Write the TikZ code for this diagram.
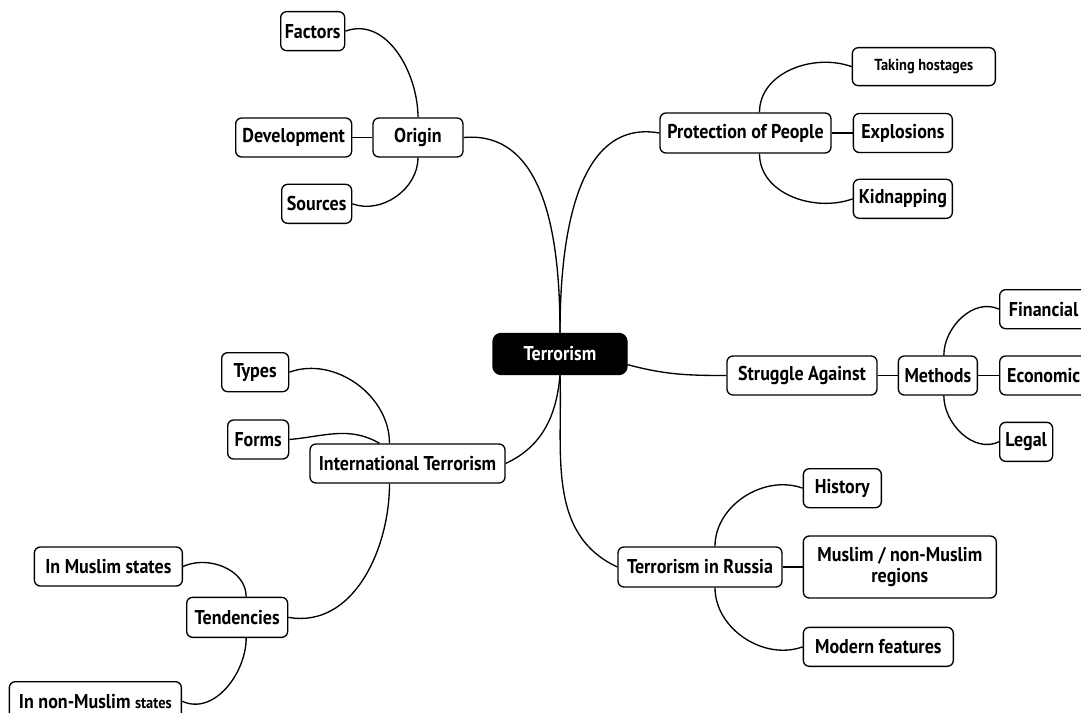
\documentclass[tikz,border=0pt]{standalone}
\usepackage{fontspec}
\setmainfont{PT Sans}[FakeStretch=0.9]
\usetikzlibrary{positioning}

\begin{document}
\begin{tikzpicture}[
    x=0.75pt, y=-0.75pt,
    node distance=15pt,
    topic/.style={rectangle, draw, line width=1pt, rounded corners=4.5pt, minimum height=29.25pt, inner xsep=3pt, align=center, font=\fontsize{15}{16}\selectfont\bfseries},
    central/.style={topic, fill=black, text=white, rounded corners=6pt, minimum height=30.75pt},
    link/.style={line width=1pt}
]
    \useasboundingbox (0,0) rectangle (1081,713);

    % Central topic
    \node[central, minimum width=100.5pt] (terror) at (560,354) {Terrorism};

    % Main branches
    \node[topic, minimum width=67.5pt] (origin) at (418,137.5) {Origin};
    \node[topic, minimum width=128.25pt, minimum height=30pt] (protect) at (745.5,133) {Protection of People};
    \node[topic, minimum width=112.5pt] (struggle) at (802,375.5) {Struggle Against};
    \node[topic, minimum width=146.25pt] (intl) at (407.5,463.5) {International Terrorism};
    \node[topic, minimum width=123pt, minimum height=30pt] (russia) at (700,567) {Terrorism in Russia};

    % Origin
    \node[topic, minimum width=87pt, left=of origin] (develop) {Development};
    \node[topic, minimum width=48pt, above left=49.5pt and 20.25pt of origin] (factors) {Factors};
    \node[topic, minimum width=52.5pt, below left=19.5pt and 15pt of origin] (sources) {Sources};

    % Protection of People
    \node[topic, minimum width=107.25pt, minimum height=28.5pt, font=\fontsize{12}{13}\selectfont\bfseries, above right=19.5pt and 15pt of protect] (hostages) {Taking hostages};
    \node[topic, minimum width=74.25pt, right=15.75pt of protect] (explosions) {Explosions};
    \node[topic, minimum width=74.25pt, below right=18.75pt and 15.75pt of protect] (kidnap) {Kidnapping};

    % Struggle Against
    \node[topic, minimum width=59.25pt, right=of struggle] (methods) {Methods};
    \node[topic, minimum width=66pt, above right=19.5pt and 15.75pt of methods] (financial) {Financial};
    \node[topic, minimum width=66pt, right=15.75pt of methods] (economic) {Economic};
    \node[topic, minimum width=39.75pt, below right=19.5pt and 15.75pt of methods] (legal) {Legal};

    % International Terrorism
    \node[topic, minimum width=50.25pt, above left=38.25pt and 15pt of intl] (types) {Types};
    \node[topic, minimum width=45.75pt, left=of intl, yshift=18pt] (forms) {Forms};
    \node[topic, minimum width=75.75pt, minimum height=30pt, below left=84.75pt and 15.75pt of intl] (tendency) {Tendencies};
    \node[topic, minimum width=111pt, above left=7.5pt and 2.25pt of tendency] (muslim) {In Muslim states};
    \node[topic, minimum width=129pt, below left=32.25pt and 3pt of tendency] (nonmuslim) {In non-Muslim {\fontsize{12}{13}\selectfont states}};

    % Terrorism in Russia
    \node[topic, minimum width=144.75pt, minimum height=46.5pt, right=of russia] (regions) {Muslim / non-Muslim\\regions};
    \node[topic, minimum width=58.5pt, above=20.25pt of regions.north west, anchor=south west] (history) {History};
    \node[topic, minimum width=112.5pt, below=21pt of regions.south west, anchor=north west] (modern) {Modern features};

    % Connections
    \draw[link] (terror.north) to[out=90, in=5] (origin.east);
    \draw[link] (terror.north) to[out=90, in=170] (protect.west);
    \draw[link] ([yshift=-8pt]terror.east) to[out=-15, in=180] (struggle.west);
    \draw[link] (terror.south) to[out=-95, in=25] (intl.east);
    \draw[link] (terror.south) to[out=-88, in=155] (russia.west);

    \draw[link] (origin.north) to[out=90, in=20] (factors.east);
    \draw[link] (origin.west) -- (develop.east);
    \draw[link] (origin.south) to[out=-90, in=-20] (sources.east);

    \draw[link] ([xshift=10.5pt]protect.north) to[out=90, in=160] (hostages.west);
    \draw[link] (protect.east) -- (explosions.west);
    \draw[link] ([xshift=10.5pt]protect.south) to[out=-90, in=200] (kidnap.west);

    \draw[link] (struggle.east) -- (methods.west);
    \draw[link] ([xshift=4.5pt]methods.north) to[out=90, in=155] (financial.west);
    \draw[link] (methods.east) -- (economic.west);
    \draw[link] ([xshift=4.5pt]methods.south) to[out=-90, in=205] (legal.west);

    \draw[link] ([xshift=-13.5pt]intl.north) to[out=90, in=20] (types.east);
    \draw[link] ([xshift=-21pt]intl.north) to[out=150, in=5] (forms.east);
    \draw[link] ([xshift=-13.5pt]intl.south) to[out=-90, in=-10] (tendency.east);
    \draw[link] ([xshift=6.75pt]tendency.north) to[out=90, in=25] (muslim.east);
    \draw[link] ([xshift=6.75pt]tendency.south) to[out=-90, in=-25] (nonmuslim.east);

    \draw[link] ([xshift=11.25pt]russia.north) to[out=90, in=160] (history.west);
    \draw[link] (russia.east) -- (regions.west);
    \draw[link] ([xshift=11.25pt]russia.south) to[out=-90, in=200] (modern.west);
\end{tikzpicture}
\end{document}
